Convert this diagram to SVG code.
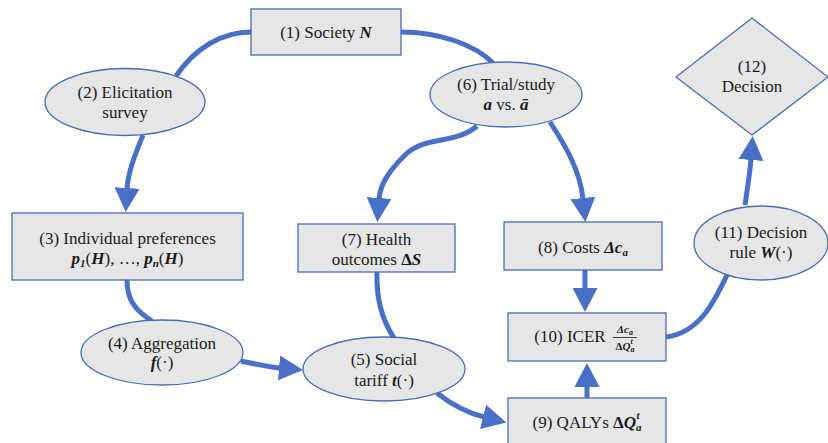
<svg xmlns="http://www.w3.org/2000/svg" width="828" height="443" viewBox="0 0 828 443">
<style>
.n{fill:#e6e6e6;stroke:#4a6cb4;stroke-width:1.3}
.c{fill:none;stroke:#4a6fc9;stroke-width:5}
text{font-family:"Liberation Serif","Times New Roman",Tinos,"DejaVu Serif","Noto Serif",serif}
.t{font-size:17px;fill:#1a1a1a;text-anchor:middle}
.m{font-style:italic;font-weight:bold}
.s{font-size:11px}
.f{font-size:11px;fill:#1a1a1a;text-anchor:middle;font-style:italic;font-weight:bold}
</style>
<defs>
<marker id="ah" viewBox="0 0 24 25" markerWidth="24" markerHeight="25" markerUnits="userSpaceOnUse" refX="1" refY="12.5" orient="auto">
<path d="M0,0 L24,12.5 L0,25 z" fill="#4a6fc9"/>
</marker>
</defs>
<g id="connectors">
<path class="c" d="M251,32 C222,32 195,48 176,76"/>
<path class="c" d="M401,32 C440,32 475,45 493,63"/>
<path class="c" d="M143,135 C135,155 128,172 127,189" marker-end="url(#ah)"/>
<path class="c" d="M477,126 C455,145 425,135 405,155 C388,172 380,185 379,199" marker-end="url(#ah)"/>
<path class="c" d="M550,122 C565,145 580,170 583,199" marker-end="url(#ah)"/>
<path class="c" d="M127,280 C127,300 135,310 152,321"/>
<path class="c" d="M241,361 C255,364 268,367 280,368" marker-end="url(#ah)"/>
<path class="c" d="M377,272 C376,300 382,320 394,338"/>
<path class="c" d="M437,393 C452,405 468,413 484,417" marker-end="url(#ah)"/>
<path class="c" d="M585,270 L585,289" marker-end="url(#ah)"/>
<path class="c" d="M587,398 L587,386" marker-end="url(#ah)"/>
<path class="c" d="M666,337 C700,333 715,300 727,275"/>
<path class="c" d="M745,205 C748,185 750,172 751,159" marker-end="url(#ah)"/>
</g>
<g id="n1">
<rect class="n" x="251" y="9" width="150" height="46"/>
<text class="t" x="326" y="38">(1) Society <tspan class="m">N</tspan></text>
</g>
<g id="n2">
<ellipse class="n" cx="125" cy="102" rx="80" ry="33.5"/>
<text class="t" x="125" y="98">(2) Elicitation</text>
<text class="t" x="125" y="118">survey</text>
</g>
<g id="n6">
<ellipse class="n" cx="506" cy="94.5" rx="76" ry="32.5"/>
<text class="t" x="506" y="90">(6) Trial/study</text>
<text class="t" x="506" y="110"><tspan class="m">a</tspan> vs. <tspan class="m">ā</tspan></text>
</g>
<g id="n12">
<polygon class="n" points="752,18 828,77 752,135 676,77"/>
<text class="t" x="752" y="72">(12)</text>
<text class="t" x="752" y="92">Decision</text>
</g>
<g id="n3">
<rect class="n" x="12" y="213" width="231" height="67"/>
<text class="t" x="127.5" y="244">(3) Individual preferences</text>
<text class="t" x="127.5" y="264"><tspan class="m">p</tspan><tspan class="m s" dy="3">1</tspan><tspan dy="-3">(</tspan><tspan class="m">H</tspan>), …, <tspan class="m">p</tspan><tspan class="m s" dy="3">n</tspan><tspan dy="-3">(</tspan><tspan class="m">H</tspan>)</text>
</g>
<g id="n7">
<rect class="n" x="298" y="224" width="157" height="48"/>
<text class="t" x="376.5" y="245">(7) Health</text>
<text class="t" x="376.5" y="265">outcomes <tspan font-weight="bold">Δ</tspan><tspan class="m">S</tspan></text>
</g>
<g id="n4">
<ellipse class="n" cx="162" cy="352.5" rx="81" ry="32.5"/>
<text class="t" x="162" y="349">(4) Aggregation</text>
<text class="t" x="162" y="368"><tspan class="m">f</tspan>(·)</text>
</g>
<g id="n5">
<ellipse class="n" cx="384" cy="369" rx="81" ry="32"/>
<text class="t" x="384" y="365">(5) Social</text>
<text class="t" x="384" y="386">tariff <tspan class="m">t</tspan>(·)</text>
</g>
<g id="n8">
<rect class="n" x="504" y="222" width="158" height="48"/>
<text class="t" x="583" y="253">(8) Costs <tspan class="m">Δc</tspan><tspan class="m s" dy="3">a</tspan></text>
</g>
<g id="n10">
<rect class="n" x="508" y="313" width="158" height="48"/>
<text class="t" x="570" y="342">(10) ICER</text>
<text class="f" x="625" y="333">Δc<tspan dy="2" font-size="8">a</tspan></text>
<line x1="613" y1="337.5" x2="637" y2="337.5" stroke="#1a1a1a" stroke-width="0.8"/>
<text class="f" x="625" y="350"><tspan font-style="normal">Δ</tspan>Q<tspan dy="2" font-size="8">a</tspan><tspan dx="-4" dy="-8" font-size="8">t</tspan></text>
</g>
<g id="n9">
<rect class="n" x="508" y="398" width="158" height="50"/>
<text class="t" x="587" y="428">(9) QALYs <tspan font-weight="bold">Δ</tspan><tspan class="m">Q</tspan><tspan class="m s" dy="3">a</tspan><tspan class="m s" dx="-5" dy="-12">t</tspan></text>
</g>
<g id="n11">
<ellipse class="n" cx="761" cy="243" rx="67" ry="37"/>
<text class="t" x="761" y="238">(11) Decision</text>
<text class="t" x="761" y="258">rule <tspan class="m">W</tspan>(·)</text>
</g>
</svg>
